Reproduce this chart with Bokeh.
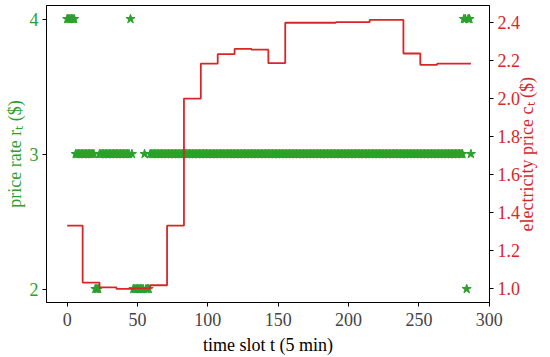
import math
from bokeh.plotting import figure
from bokeh.models import Range1d, LinearAxis, FixedTicker, PrintfTickFormatter
from bokeh.embed import file_html
from bokeh.resources import INLINE

# ---- data ----
# hourly electricity price c_t ($); each hour spans 12 five-minute slots
hourly_price = [1.33, 1.03, 1.005, 0.997, 1.0, 1.016, 1.33, 2.0,
                2.185, 2.235, 2.262, 2.258, 2.187, 2.40, 2.40, 2.40,
                2.403, 2.403, 2.415, 2.415, 2.238, 2.178, 2.185, 2.185]
slots_per_hour = 12

# price rate r_t ($) as runs: (value, number of consecutive slots)
rate_runs = [(4, 6), (3, 14), (2, 3), (3, 22), (4, 1), (3, 1), (2, 8),
             (3, 1), (2, 3), (3, 223), (4, 2), (2, 1), (4, 2), (3, 1)]

x_ticks = [0, 50, 100, 150, 200, 250, 300]
left_ticks = [2, 3, 4]
right_ticks = [1.0, 1.2, 1.4, 1.6, 1.8, 2.0, 2.2, 2.4]

x_label = "time slot t (5 min)"
left_label = "price rate rₜ ($)"
right_label = "electricity price cₜ ($)"

GREEN = "#2ca02c"
RED = "#d62728"
FONT = "Liberation Serif"

# expand to per-slot series
price = [v for v in hourly_price for _ in range(slots_per_hour)]
t_price = list(range(len(price)))
rate = [v for v, n in rate_runs for _ in range(n)]
t_rate = list(range(len(rate)))

p = figure(width=550, height=357,
           x_range=Range1d(-14.7, 300.2), y_range=Range1d(1.9, 4.1),
           output_backend="svg", toolbar_location=None,
           min_border_left=46, min_border_right=61,
           min_border_top=5, min_border_bottom=54)
p.extra_y_ranges = {"price": Range1d(0.925, 2.491)}

p.xgrid.visible = False
p.ygrid.visible = False
p.outline_line_color = "black"
p.outline_line_width = 1
p.background_fill_color = "white"
p.border_fill_color = "white"

p.scatter(t_rate, rate, marker="star", size=9.5,
          fill_color=GREEN, line_color=GREEN)
p.step(t_price, price, mode="before", line_color=RED, line_width=1.8,
       y_range_name="price")

# axes
xa = p.xaxis[0]
xa.ticker = FixedTicker(ticks=x_ticks)
xa.axis_label = x_label
xa.axis_label_text_color = "black"

ya = p.yaxis[0]
ya.ticker = FixedTicker(ticks=left_ticks)
ya.axis_label = left_label
ya.axis_label_text_color = GREEN
ya.major_label_text_color = GREEN

ra = LinearAxis(y_range_name="price", ticker=FixedTicker(ticks=right_ticks),
                formatter=PrintfTickFormatter(format="%.1f"))
ra.major_label_text_color = RED
p.add_layout(ra, "right")

for ax in [xa, ya, ra]:
    ax.axis_line_color = "black"
    ax.major_tick_line_color = "black"
    ax.minor_tick_line_color = None
    ax.major_tick_in = 0
    ax.major_tick_out = 4
    ax.major_label_text_font = FONT
    ax.major_label_text_font_size = "18px"
    ax.major_label_text_line_height = 1.0
    ax.axis_label_text_font = FONT
    ax.axis_label_text_font_size = "18px"
    ax.axis_label_text_font_style = "normal"
    ax.axis_label_text_line_height = 1.0
    ax.major_label_standoff = 4
    ax.axis_label_standoff = 3
xa.major_label_standoff = 6
xa.axis_label_standoff = 6
ya.axis_label_standoff = 2

# right-hand title, reading bottom to top: a bare outer axis whose single
# label starts low on the axis and runs upward
title_anchor = 1.30
rt = LinearAxis(y_range_name="price", ticker=FixedTicker(ticks=[title_anchor]),
                major_label_overrides={title_anchor: right_label},
                major_label_orientation=math.pi / 2)
rt.axis_line_color = None
rt.major_tick_line_color = None
rt.minor_tick_line_color = None
rt.major_tick_in = 0
rt.major_tick_out = 0
rt.major_label_standoff = 4
rt.major_label_text_color = RED
rt.major_label_text_font = FONT
rt.major_label_text_font_size = "18px"
rt.major_label_text_line_height = 1.0
p.add_layout(rt, "right")

open("out.html", "w").write(file_html(p, INLINE))
